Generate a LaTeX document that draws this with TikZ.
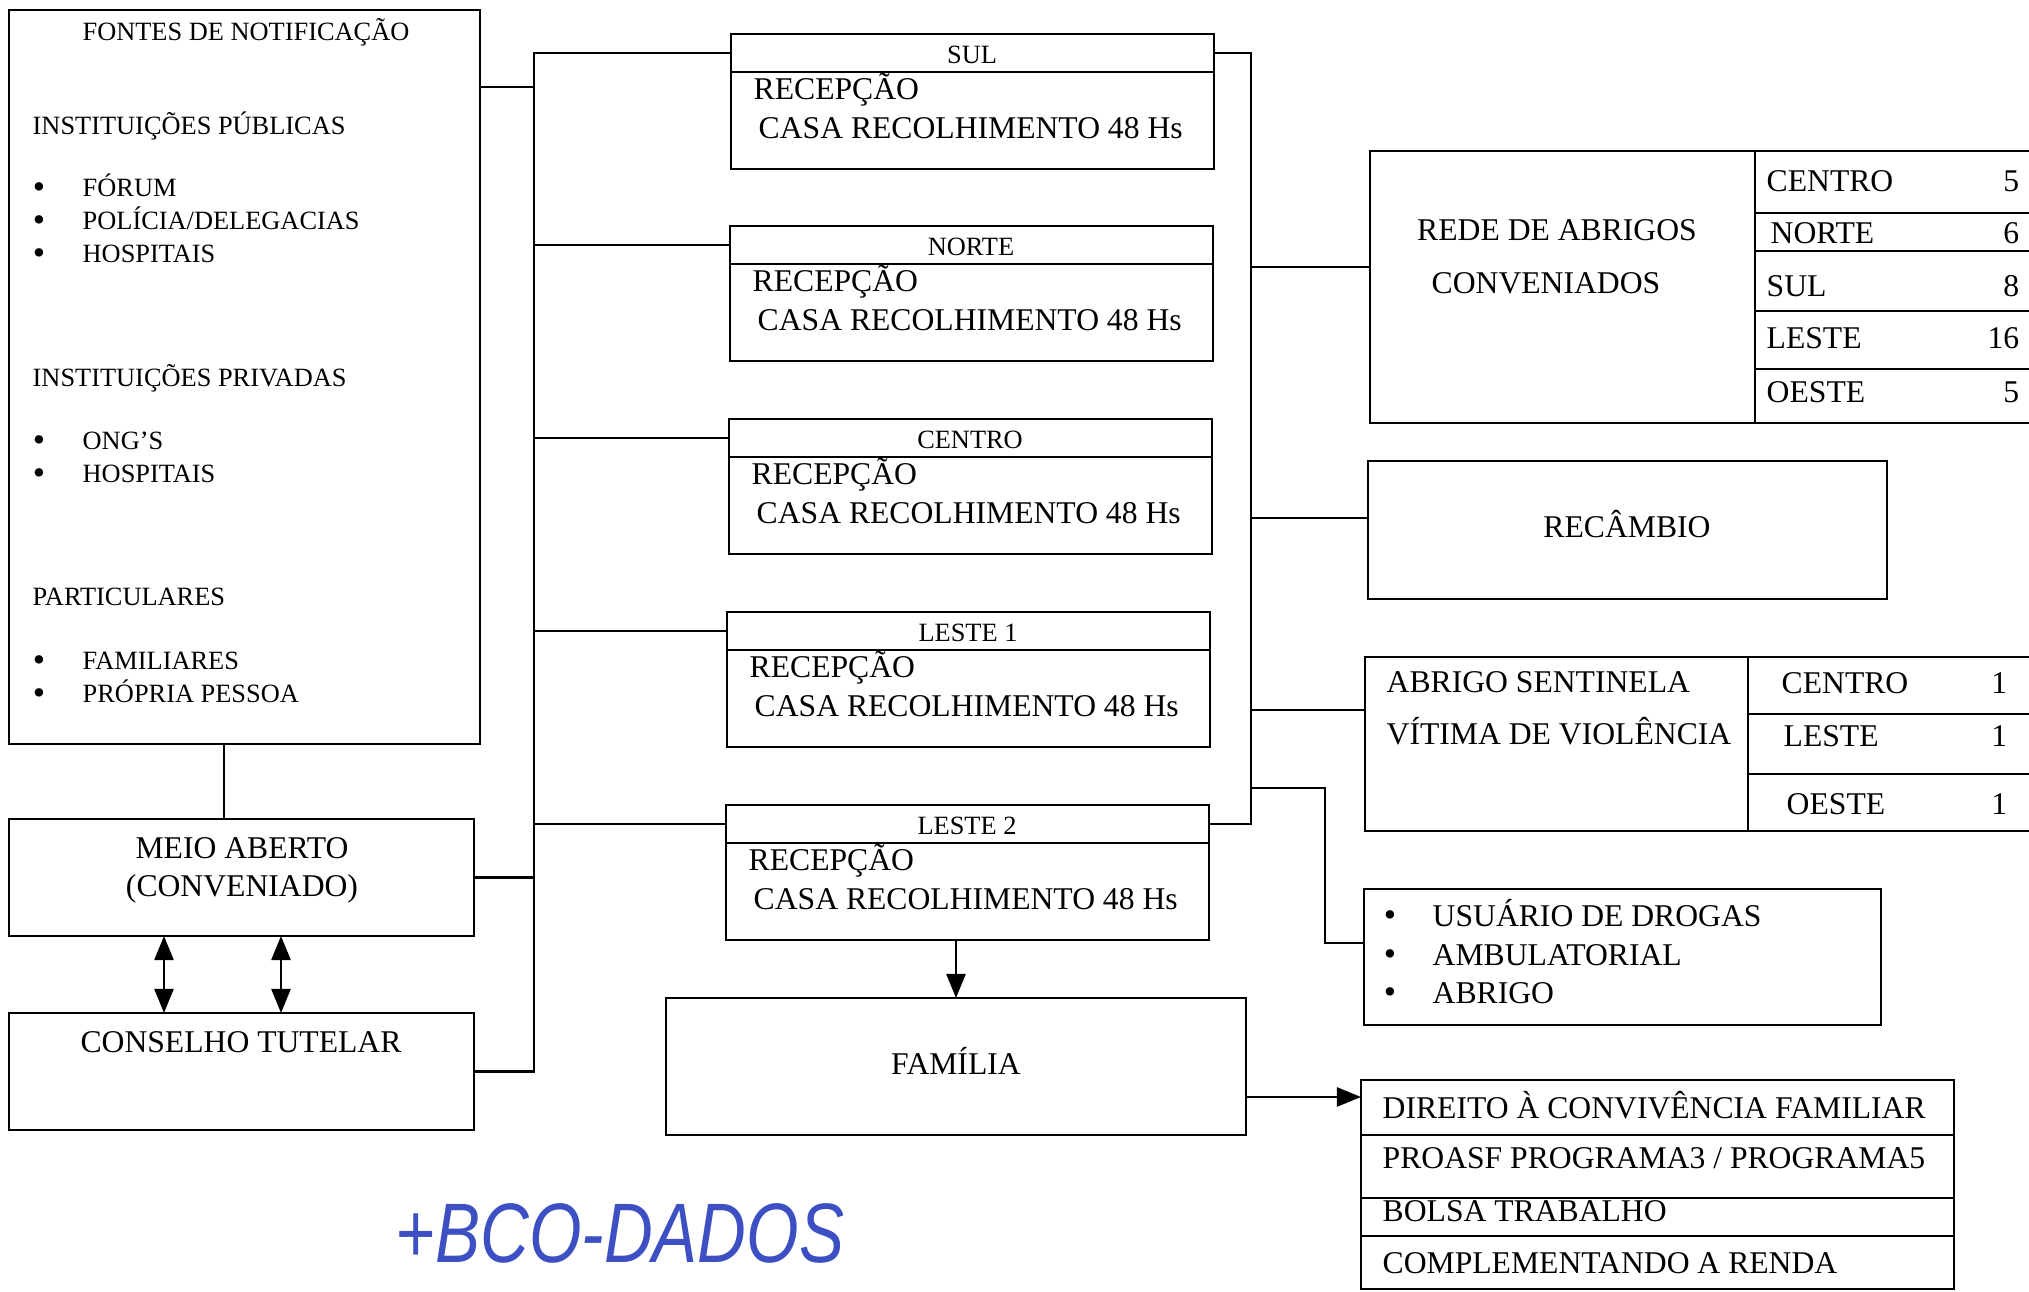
\documentclass[tikz,border=0pt]{standalone}
\usepackage{fontspec}
\setmainfont{Liberation Serif}
\newfontfamily\manuscrita{Liberation Sans}
\usepackage{xcolor}
\usepackage{graphicx}
\usepackage{tikz}
\usetikzlibrary{arrows.meta,positioning,fit,calc}
\definecolor{tinta}{RGB}{60,80,195}

\begin{document}
\begin{tikzpicture}[x=0.01cm,y=-0.01cm,
	caixa/.style={draw,line width=0.7pt,inner sep=0pt,outer sep=0pt},
	txt/.style={inner sep=0pt,font=\fontsize{9}{11}\selectfont,text height=5.9pt,text depth=0pt},
	txtp/.style={inner sep=0pt,font=\fontsize{7.5}{9}\selectfont,text height=4.9pt,text depth=0pt},
	bola/.style={inner sep=0pt,font=\fontsize{10}{10}\selectfont,text height=6.2pt,text depth=0pt},
	linha/.style={line width=0.7pt},
	seta/.style={line width=0.7pt,-{Triangle[length=2.4mm,width=1.9mm]}},
	seta2/.style={line width=0.7pt,{Triangle[length=2.4mm,width=1.9mm]}-{Triangle[length=2.4mm,width=1.9mm]}}]
	\useasboundingbox (0,0) rectangle (2029,1292);
	\clip (0,0) rectangle (2029,1292);
	% fontes de notificacao
	\node[caixa,fit={(9,10) (480,744)}] (fontes) {};
	\node[txtp] (tfontes) at (246,32) {FONTES DE NOTIFICAÇÃO};
	\node[txtp,anchor=west] (tpub) at (32,126) {INSTITUIÇÕES PÚBLICAS};
	\node[bola] (b1) at (39,188) {\textbullet};
	\node[txtp,anchor=west] (forum) at (82,188) {FÓRUM};
	\node[bola] (b2) at (39,221) {\textbullet};
	\node[txtp,anchor=west] (policia) at (82,221) {POLÍCIA/DELEGACIAS};
	\node[bola] (b3) at (39,254) {\textbullet};
	\node[txtp,anchor=west] (hosp1) at (82,254) {HOSPITAIS};
	\node[txtp,anchor=west] (tpriv) at (32,378) {INSTITUIÇÕES PRIVADAS};
	\node[bola] (b4) at (39,441) {\textbullet};
	\node[txtp,anchor=west] (ongs) at (82,441) {ONG’S};
	\node[bola] (b5) at (39,474) {\textbullet};
	\node[txtp,anchor=west] (hosp2) at (82,474) {HOSPITAIS};
	\node[txtp,anchor=west] (tpart) at (32,597) {PARTICULARES};
	\node[bola] (b6) at (39,661) {\textbullet};
	\node[txtp,anchor=west] (famil) at (82,661) {FAMILIARES};
	\node[bola] (b7) at (39,694) {\textbullet};
	\node[txtp,anchor=west] (propria) at (82,694) {PRÓPRIA PESSOA};
	% meio aberto e conselho
	\node[caixa,fit={(9,819) (474,936)}] (meio) {};
	\node[txt] (tmeio1) at (242,848) {MEIO ABERTO};
	\node[txt] (tmeio2) at (242,886) {(CONVENIADO)};
	\node[caixa,fit={(9,1013) (474,1130)}] (conselho) {};
	\node[txt] (tconselho) at (241,1042) {CONSELHO TUTELAR};
	% recepcoes
	\node[caixa,fit={(731,34) (1214,72)}] (sulcab) {};
	\node[caixa,fit={(731,72) (1214,169)}] (sulcorpo) {};
	\node[txtp] (tsul) at (972,55) {SUL};
	\node[txt,anchor=west] (rsul) at (753,89) {RECEPÇÃO};
	\node[txt,anchor=west] (csul) at (758,128) {CASA RECOLHIMENTO 48 Hs};
	\node[caixa,fit={(730,226) (1213,264)}] (nortecab) {};
	\node[caixa,fit={(730,264) (1213,361)}] (nortecorpo) {};
	\node[txtp] (tnorte) at (971,247) {NORTE};
	\node[txt,anchor=west] (rnorte) at (752,281) {RECEPÇÃO};
	\node[txt,anchor=west] (cnorte) at (757,320) {CASA RECOLHIMENTO 48 Hs};
	\node[caixa,fit={(729,419) (1212,457)}] (centrocab) {};
	\node[caixa,fit={(729,457) (1212,554)}] (centrocorpo) {};
	\node[txtp] (tcentro) at (970,440) {CENTRO};
	\node[txt,anchor=west] (rcentro) at (751,474) {RECEPÇÃO};
	\node[txt,anchor=west] (ccentro) at (756,513) {CASA RECOLHIMENTO 48 Hs};
	\node[caixa,fit={(727,612) (1210,650)}] (l1cab) {};
	\node[caixa,fit={(727,650) (1210,747)}] (l1corpo) {};
	\node[txtp] (tl1) at (968,633) {LESTE 1};
	\node[txt,anchor=west] (rl1) at (749,667) {RECEPÇÃO};
	\node[txt,anchor=west] (cl1) at (754,706) {CASA RECOLHIMENTO 48 Hs};
	\node[caixa,fit={(726,805) (1209,843)}] (l2cab) {};
	\node[caixa,fit={(726,843) (1209,940)}] (l2corpo) {};
	\node[txtp] (tl2) at (967,826) {LESTE 2};
	\node[txt,anchor=west] (rl2) at (748,860) {RECEPÇÃO};
	\node[txt,anchor=west] (cl2) at (753,899) {CASA RECOLHIMENTO 48 Hs};
	% familia
	\node[caixa,fit={(666,998) (1246,1135)}] (familia) {};
	\node[txt] (tfamilia) at (956,1064) {FAMÍLIA};
	% rede de abrigos
	\node[caixa,fit={(1370,151) (2040,423)}] (rede) {};
	\node[txt] (trede1) at (1557,230) {REDE DE ABRIGOS};
	\node[txt] (trede2) at (1546,283) {CONVENIADOS};
	\node[caixa,fit={(1755,151) (2040,213)}] (rd1) {};
	\node[caixa,fit={(1755,213) (2040,251)}] (rd2) {};
	\node[caixa,fit={(1755,251) (2040,311)}] (rd3) {};
	\node[caixa,fit={(1755,311) (2040,369)}] (rd4) {};
	\node[caixa,fit={(1755,369) (2040,423)}] (rd5) {};
	\node[txt,anchor=west] (rdc) at (1766,181) {CENTRO};
	\node[txt,anchor=west] (rdn) at (1770,233) {NORTE};
	\node[txt,anchor=west] (rds) at (1766,286) {SUL};
	\node[txt,anchor=west] (rdl) at (1766,338) {LESTE};
	\node[txt,anchor=west] (rdo) at (1766,392) {OESTE};
	\node[txt,anchor=east] (nc) at (2020,181) {5};
	\node[txt,anchor=east] (nn) at (2020,233) {6};
	\node[txt,anchor=east] (ns) at (2020,286) {8};
	\node[txt,anchor=east] (nl) at (2020,338) {16};
	\node[txt,anchor=east] (no) at (2020,392) {5};
	% recambio
	\node[caixa,fit={(1368,461) (1887,599)}] (recambio) {};
	\node[txt] (trecambio) at (1627,527) {RECÂMBIO};
	% abrigo sentinela
	\node[caixa,fit={(1365,657) (2040,831)}] (sentinela) {};
	\node[txt,anchor=west] (tsent1) at (1386,682) {ABRIGO SENTINELA};
	\node[txt,anchor=west] (tsent2) at (1386,734) {VÍTIMA DE VIOLÊNCIA};
	\node[caixa,fit={(1748,657) (2040,714)}] (st1) {};
	\node[caixa,fit={(1748,714) (2040,774)}] (st2) {};
	\node[caixa,fit={(1748,774) (2040,831)}] (st3) {};
	\node[txt,anchor=west] (stc) at (1781,683) {CENTRO};
	\node[txt,anchor=west] (stl) at (1783,736) {LESTE};
	\node[txt,anchor=west] (sto) at (1786,804) {OESTE};
	\node[txt,anchor=east] (sn1) at (2008,683) {1};
	\node[txt,anchor=east] (sn2) at (2008,736) {1};
	\node[txt,anchor=east] (sn3) at (2008,804) {1};
	% usuario de drogas
	\node[caixa,fit={(1364,889) (1881,1025)}] (usuario) {};
	\node[bola] (u1) at (1390,916) {\textbullet};
	\node[txt,anchor=west] (tu1) at (1432,916) {USUÁRIO DE DROGAS};
	\node[bola] (u2) at (1390,955) {\textbullet};
	\node[txt,anchor=west] (tu2) at (1432,955) {AMBULATORIAL};
	\node[bola] (u3) at (1390,993) {\textbullet};
	\node[txt,anchor=west] (tu3) at (1432,993) {ABRIGO};
	% direito a convivencia
	\node[caixa,fit={(1361,1080) (1954,1135)}] (dir1) {};
	\node[caixa,fit={(1361,1135) (1954,1198)}] (dir2) {};
	\node[caixa,fit={(1361,1198) (1954,1236)}] (dir3) {};
	\node[caixa,fit={(1361,1236) (1954,1289)}] (dir4) {};
	\node[txt,anchor=west] (td1) at (1382,1108) {DIREITO À CONVIVÊNCIA FAMILIAR};
	\node[txt,anchor=west] (td2) at (1382,1158) {PROASF PROGRAMA3 / PROGRAMA5};
	\node[txt,anchor=west] (td3) at (1382,1211) {BOLSA TRABALHO};
	\node[txt,anchor=west] (td4) at (1382,1263) {COMPLEMENTANDO A RENDA};
	% anotacao a mao
	\node[inner sep=0pt,text=tinta,font=\manuscrita\itshape\fontsize{24}{24}\selectfont] (nota) at (620,1233) {\scalebox{0.8}[1]{+BCO-DADOS}};
	% ligacoes
	\coordinate (bL) at (534,0);
	\coordinate (bR) at (1251,0);
	\coordinate (yF) at (0,87);
	\coordinate (yRede) at (0,267);
	\coordinate (yRec) at (0,518);
	\coordinate (ySent) at (0,710);
	\coordinate (yUsu) at (0,788);
	\coordinate (yDir) at (0,1097);
	\coordinate (dobra) at (1325,943);
	\coordinate (a1) at (164,0);
	\coordinate (a2) at (281,0);
	\coordinate (a3) at (224,0);
	\draw[linha] (fontes.south -| a3) -- (meio.north -| a3);
	\draw[linha] (sulcab.west) -- (sulcab.west -| bL) -- (conselho.east -| bL) -- (conselho.east);
	\draw[linha] (fontes.east |- yF) -- (bL |- yF);
	\draw[linha] (meio.east) -- (meio.east -| bL);
	\draw[linha] (bL |- nortecab.west) -- (nortecab.west);
	\draw[linha] (bL |- centrocab.west) -- (centrocab.west);
	\draw[linha] (bL |- l1cab.west) -- (l1cab.west);
	\draw[linha] (bL |- l2cab.west) -- (l2cab.west);
	\draw[linha] (sulcab.east) -- (sulcab.east -| bR) -- (l2cab.east -| bR) -- (l2cab.east);
	\draw[linha] (bR |- yRede) -- (rede.west |- yRede);
	\draw[linha] (bR |- yRec) -- (recambio.west |- yRec);
	\draw[linha] (bR |- ySent) -- (sentinela.west |- ySent);
	\draw[linha] (bR |- yUsu) -| (dobra) -- (dobra -| usuario.west);
	\draw[seta2] (meio.south -| a1) -- (conselho.north -| a1);
	\draw[seta2] (meio.south -| a2) -- (conselho.north -| a2);
	\draw[seta] (l2corpo.south -| familia.north) -- (familia.north);
	\draw[seta] (familia.east |- yDir) -- (dir1.west |- yDir);
\end{tikzpicture}
\end{document}
